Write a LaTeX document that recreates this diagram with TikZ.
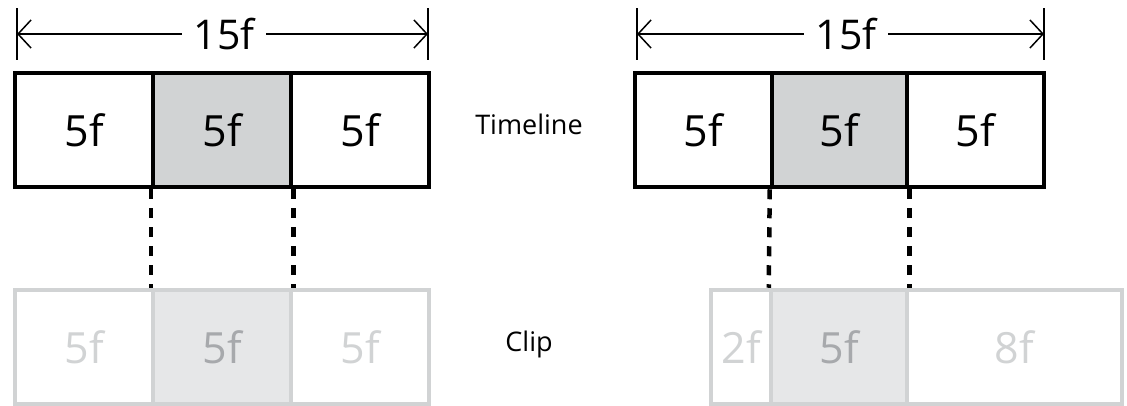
\documentclass[tikz,border=0pt]{standalone}
\usepackage{fontspec}
\setmainfont{Open Sans}
\definecolor{ClipGray}  {RGB}{209,211,212}
\definecolor{ClipFill}  {RGB}{230,231,232}
\definecolor{ClipText}  {RGB}{167,169,172}
\usetikzlibrary{arrows.meta,positioning}

\begin{document}
\begin{tikzpicture}[x=1pt,y=-1pt,
    cell/.style={draw,line width=4.5pt,inner sep=0pt,minimum height=114pt,
                 font=\fontsize{43}{43}\selectfont},
    clipcell/.style={cell,draw=ClipGray,text=ClipGray},
    span/.style={{Straight Barb[length=13pt,width=28pt]}-{Straight Barb[length=13pt,width=28pt]},
                 line width=1.5pt},
    cut/.style={line width=4.5pt,dash pattern=on 10pt off 9pt}]
  \useasboundingbox (0,0) rectangle (1127,405);
  % Left: timeline cells
  \node[cell,minimum width=138pt] (tla) at (84,130){5f};
  \node[cell,minimum width=138pt,fill=ClipGray] (tlb) at (222,130){5f};
  \node[cell,minimum width=138pt] (tlc) at (360,130){5f};
  % Left: clip cells
  \node[clipcell,minimum width=138pt] (cla) at (84,347){5f};
  \node[clipcell,minimum width=138pt,fill=ClipFill,text=ClipText] (clb) at (222,347){5f};
  \node[clipcell,minimum width=138pt] (clc) at (360,347){5f};
  % Right: timeline cells
  \node[cell,minimum width=137pt] (tra) at (703.5,130){5f};
  \node[cell,minimum width=135pt,fill=ClipGray] (trb) at (839.5,130){5f};
  \node[cell,minimum width=137pt] (trc) at (975.5,130){5f};
  % Right: clip cells
  \node[clipcell,minimum width=60pt] (cra) at (741,347){2f};
  \node[clipcell,minimum width=136pt,fill=ClipFill,text=ClipText] (crb) at (839,347){5f};
  \node[clipcell,minimum width=215pt] (crc) at (1014.5,347){8f};
  % Row labels
  \node[font=\fontsize{27}{27}\selectfont] (timeline) at (529,124){Timeline};
  \node[font=\fontsize{27}{27}\selectfont] (clip) at (529,344){Clip};
  % Cut markers between the rows
  \draw[cut] (tlb.south west) -- (clb.north west);
  \draw[cut] (tlb.south east) -- (clb.north east);
  \draw[cut] (trb.south west) -- (crb.north west);
  \draw[cut] (trb.south east) -- (crb.north east);
  % Total length, left
  \coordinate (la) at (17,34);
  \coordinate (lb) at (428,34);
  \draw[line width=1.5pt] (17,8) -- (17,60) (428,8) -- (428,60);
  \draw[span] (la) -- (lb);
  \node[fill=white,inner xsep=12pt,inner ysep=4pt,font=\fontsize{41}{41}\selectfont] (lspan) at (224,34){15f};
  % Total length, right
  \coordinate (ra) at (637,34);
  \coordinate (rb) at (1044,34);
  \draw[line width=1.5pt] (637,8) -- (637,60) (1044,8) -- (1044,60);
  \draw[span] (ra) -- (rb);
  \node[fill=white,inner xsep=12pt,inner ysep=4pt,font=\fontsize{41}{41}\selectfont] (rspan) at (846,34){15f};
\end{tikzpicture}
\end{document}
